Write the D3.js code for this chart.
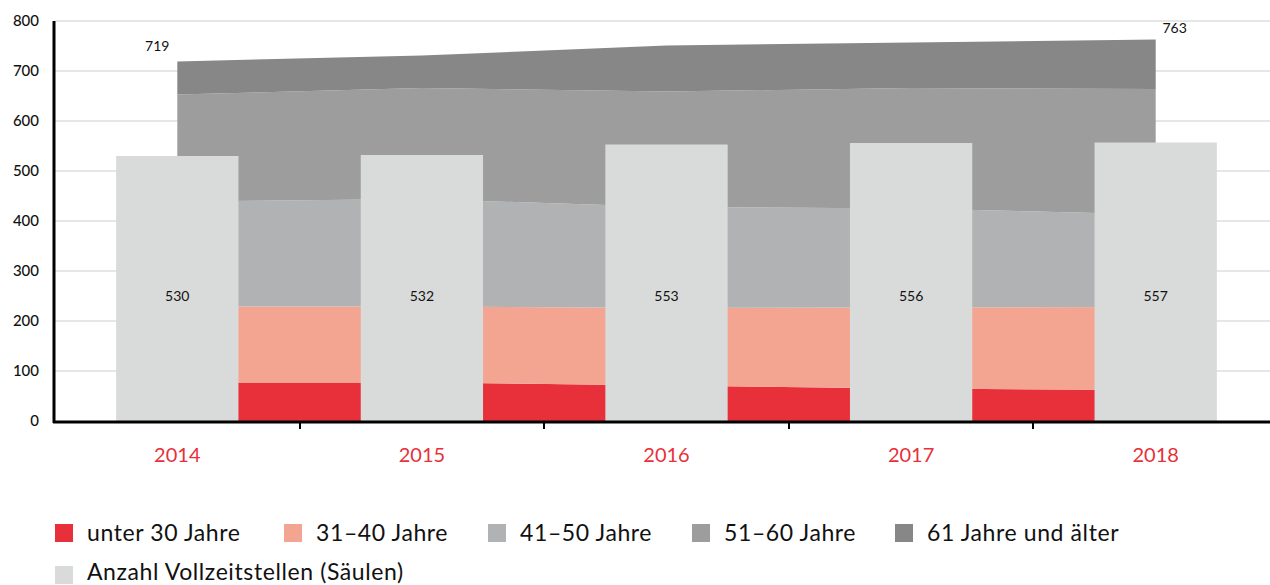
<!DOCTYPE html>
<html>
<head>
<meta charset="utf-8">
<script src="https://cdn.jsdelivr.net/npm/d3@7"></script>
<style>
  body { margin: 0; background: #fff; }
  svg { display: block; font-family: Lato, "Open Sans", sans-serif; }
</style>
</head>
<body>
<svg id="chart" width="1270" height="585"></svg>
<script>
// data
const years = ["2014", "2015", "2016", "2017", "2018"];
const under30 = [77, 77, 71, 65, 62];
const age31to40 = [152, 152, 155, 162, 166];
const age41to50 = [210, 215, 202, 198, 185];
const age51to60 = [214, 222, 231, 241, 251];
const age61plus = [66, 65, 92, 91, 99];
const fullTimePosts = [530, 532, 553, 556, 557];
const yTicks = [0, 100, 200, 300, 400, 500, 600, 700, 800];
const totalLabels = ["719", "", "", "", "763"];

const seriesNames = ["unter 30 Jahre", "31\u201340 Jahre", "41\u201350 Jahre", "51\u201360 Jahre", "61 Jahre und \u00e4lter"];
const seriesColors = ["#e8303a", "#f4a592", "#b1b2b3", "#9d9d9d", "#878787"];
const barColor = "#d9dbda";
const barLegend = "Anzahl Vollzeitstellen (S\u00e4ulen)";

let svg = d3.select("#chart");
let plotLeft = 55, plotRight = 1278, plotTop = 21, plotBottom = 421;

let x = d3.scaleBand().domain(years).range([plotLeft, plotRight]);
let y = d3.scaleLinear().domain([0, 800]).range([plotBottom, plotTop]);
let cx = function(d) { return x(d) + x.bandwidth() / 2; };

// grid
svg.append("g").selectAll("line")
  .data(yTicks.filter(function(t) { return t > 0; }))
  .enter().append("line")
  .attr("x1", plotLeft).attr("x2", 1270)
  .attr("y1", function(d) { return y(d); })
  .attr("y2", function(d) { return y(d); })
  .attr("stroke", "#dedede")
  .attr("stroke-width", 1.5);

// stacked areas
let rows = years.map(function(yr, i) {
  return { year: yr, s0: under30[i], s1: age31to40[i], s2: age41to50[i], s3: age51to60[i], s4: age61plus[i] };
});
let stack = d3.stack().keys(["s0", "s1", "s2", "s3", "s4"]);
let layers = stack(rows);

let area = d3.area()
  .x(function(d) { return cx(d.data.year); })
  .y0(function(d) { return y(d[0]); })
  .y1(function(d) { return y(d[1]); });

svg.append("g").selectAll("path")
  .data(layers)
  .enter().append("path")
  .attr("d", area)
  .attr("fill", function(d, i) { return seriesColors[i]; });

// bars
svg.append("g").selectAll("rect")
  .data(fullTimePosts)
  .enter().append("rect")
  .attr("x", function(d, i) { return cx(years[i]) - x.bandwidth() / 4; })
  .attr("width", x.bandwidth() / 2)
  .attr("y", function(d) { return y(d); })
  .attr("height", function(d) { return y(0) - y(d); })
  .attr("fill", barColor);

svg.append("g").selectAll("text")
  .data(fullTimePosts)
  .enter().append("text")
  .attr("x", function(d, i) { return cx(years[i]); })
  .attr("y", y(250))
  .attr("dy", "0.35em")
  .attr("text-anchor", "middle")
  .attr("font-size", 14)
  .attr("fill", "#111")
  .text(function(d) { return d; });

// total labels
let totals = rows.map(function(r) { return r.s0 + r.s1 + r.s2 + r.s3 + r.s4; });
svg.append("text")
  .attr("x", cx(years[0]) - 20).attr("y", y(totals[0]) - 15)
  .attr("dy", "0.35em").attr("text-anchor", "middle")
  .attr("font-size", 14).attr("fill", "#111")
  .text(totalLabels[0]);
svg.append("text")
  .attr("x", cx(years[4]) + 19).attr("y", y(totals[4]) - 11)
  .attr("dy", "0.35em").attr("text-anchor", "middle")
  .attr("font-size", 14).attr("fill", "#111")
  .text(totalLabels[4]);

// axes
svg.append("line")
  .attr("x1", plotLeft - 1).attr("x2", plotLeft - 1)
  .attr("y1", plotTop).attr("y2", plotBottom + 2)
  .attr("stroke", "#000").attr("stroke-width", 3);
svg.append("line")
  .attr("x1", plotLeft - 2).attr("x2", 1270)
  .attr("y1", plotBottom + 1).attr("y2", plotBottom + 1)
  .attr("stroke", "#000").attr("stroke-width", 3);

svg.append("g").selectAll("line")
  .data(years.slice(1))
  .enter().append("line")
  .attr("x1", function(d) { return Math.round(x(d)); })
  .attr("x2", function(d) { return Math.round(x(d)); })
  .attr("y1", plotBottom + 1).attr("y2", plotBottom + 8)
  .attr("stroke", "#000").attr("stroke-width", 2);

svg.append("g").selectAll("text")
  .data(yTicks)
  .enter().append("text")
  .attr("x", 39)
  .attr("y", function(d) { return y(d); })
  .attr("dy", "0.35em")
  .attr("text-anchor", "end")
  .attr("font-size", 15)
  .attr("font-weight", 500)
  .attr("fill", "#111")
  .text(function(d) { return d; });

svg.append("g").selectAll("text")
  .data(years)
  .enter().append("text")
  .attr("x", function(d) { return cx(d); })
  .attr("y", 455)
  .attr("dy", "0.35em")
  .attr("text-anchor", "middle")
  .attr("font-size", 20)
  .attr("fill", "#e8303a")
  .text(function(d) { return d; });

// legend
let legendX = [55, 284, 488, 692, 895];
let lg = svg.append("g");
seriesNames.forEach(function(name, i) {
  lg.append("rect").attr("x", legendX[i]).attr("y", 524)
    .attr("width", 18).attr("height", 18).attr("fill", seriesColors[i]);
  lg.append("text").attr("x", legendX[i] + 32).attr("y", 533)
    .attr("dy", "0.35em").attr("font-size", 23)
    .attr("letter-spacing", 0.6).attr("fill", "#111")
    .text(name);
});
lg.append("rect").attr("x", 55).attr("y", 566)
  .attr("width", 18).attr("height", 18).attr("fill", barColor);
lg.append("text").attr("x", 87).attr("y", 572)
  .attr("dy", "0.35em").attr("font-size", 23)
  .attr("letter-spacing", 0.6).attr("fill", "#111")
  .text(barLegend);
</script>
</body>
</html>
